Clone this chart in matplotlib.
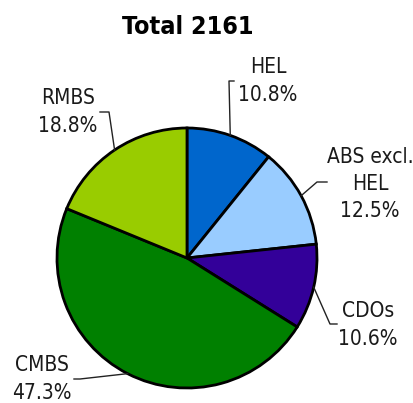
import numpy as np
import matplotlib.pyplot as plt

labels = ['HEL', 'ABS excl.\nHEL', 'CDOs', 'CMBS', 'RMBS']
shares = [10.8, 12.5, 10.6, 47.3, 18.8]
colors = ['#0066CC', '#99CCFF', '#330099', '#008000', '#99CC00']
total = 2161

W, H = 414, 403
plt.rcParams['font.family'] = ['DejaVu Sans']
plt.rcParams['font.stretch'] = 'condensed'

fig = plt.figure(figsize=(W / 100, H / 100), dpi=100)
ax = fig.add_axes([0, 0, 1, 1])

cx, cy, r = 187, H - 258, 130
wedges, _ = ax.pie(shares, colors=colors, startangle=90, counterclock=False,
                   center=(cx, cy), radius=r, frame=True,
                   wedgeprops=dict(edgecolor='black', linewidth=2))
ax.set_xlim(0, W)
ax.set_ylim(0, H)
ax.set_aspect('equal')
ax.axis('off')

# label text position, leader elbow, leader end (pixels from top-left)
layout = [
    ((268, 81), (229, 81), (234, 81)),
    ((370, 184), (317, 182), (327, 182)),
    ((368, 325), (330, 324), (337, 324)),
    ((42, 379), (80, 379), (74, 379)),
    ((68, 112), (109, 112), (100, 112)),
]

for w, lab, val, (tp, elbow, end) in zip(wedges, labels, shares, layout):
    mid = np.deg2rad((w.theta1 + w.theta2) / 2)
    ex = cx + r * np.cos(mid)
    ey = cy + r * np.sin(mid)
    ax.plot([ex, elbow[0], end[0]], [ey, H - elbow[1], H - end[1]],
            color='#222222', lw=1)
    ax.text(tp[0], H - tp[1], f'{lab}\n{val:.1f}%', ha='center', va='center',
            fontsize=15, color='#1a1a1a', linespacing=1.45)

ax.text(188, H - 27, f'Total {total}', ha='center', va='center',
        fontsize=18, fontweight='bold', color='black')

fig.savefig('out.png', dpi=100)
